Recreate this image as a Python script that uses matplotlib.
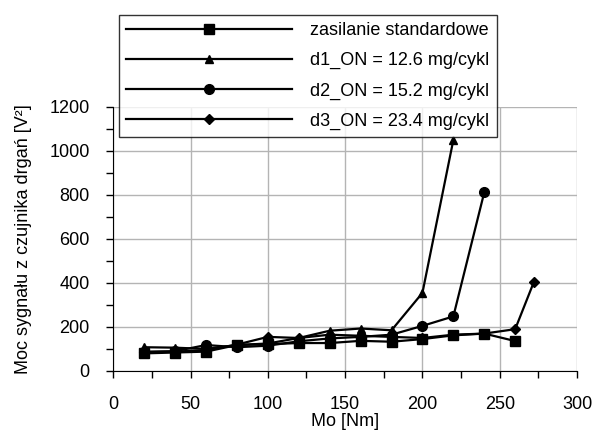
import matplotlib
matplotlib.use("Agg")
import matplotlib.pyplot as plt
from matplotlib.ticker import MultipleLocator

plt.rcParams['font.family'] = ['Liberation Sans', 'DejaVu Sans']
plt.rcParams['font.size'] = 13

# data
x_std = [20, 40, 60, 80, 100, 120, 140, 160, 180, 200, 220, 240, 260]
y_std = [80, 84, 88, 118, 122, 127, 127, 137, 133, 145, 162, 170, 136]

x_d1 = [20, 40, 60, 80, 100, 120, 140, 160, 180, 200, 220]
y_d1 = [108, 106, 100, 118, 125, 150, 183, 193, 185, 355, 1050]

x_d2 = [20, 40, 60, 80, 100, 120, 140, 160, 180, 200, 220, 240]
y_d2 = [88, 90, 118, 108, 115, 135, 148, 155, 165, 205, 248, 812]

x_d3 = [20, 40, 60, 80, 100, 120, 140, 160, 180, 200, 220, 240, 260, 272]
y_d3 = [85, 88, 95, 120, 155, 150, 165, 160, 155, 150, 165, 170, 190, 403]

labels = ["zasilanie standardowe", "d1_ON = 12.6 mg/cykl",
          "d2_ON = 15.2 mg/cykl", "d3_ON = 23.4 mg/cykl"]

fig = plt.figure(figsize=(5.94, 4.34), dpi=100)
ax = fig.add_axes([0.1907, 0.1452, 0.7807, 0.6083])

ax.plot(x_std, y_std, 'k-', marker='s', ms=7, lw=1.6, label=labels[0])
ax.plot(x_d1, y_d1, 'k-', marker='^', ms=6, lw=1.6, label=labels[1])
ax.plot(x_d2, y_d2, 'k-', marker='o', ms=7, lw=1.6, label=labels[2])
ax.plot(x_d3, y_d3, 'k-', marker='D', ms=5, lw=1.6, label=labels[3])

ax.set_xlim(0, 300)
ax.set_ylim(0, 1200)
ax.xaxis.set_major_locator(MultipleLocator(50))
ax.xaxis.set_minor_locator(MultipleLocator(25))
ax.yaxis.set_major_locator(MultipleLocator(200))
ax.yaxis.set_minor_locator(MultipleLocator(100))
ax.grid(True, which='major', color='#b4b4b4', lw=1.0)
ax.set_axisbelow(True)
for s in ['top', 'right']:
    ax.spines[s].set_visible(False)
ax.tick_params(which='both', direction='out', length=5, width=1)
ax.tick_params(axis='x', which='major', pad=13)
ax.tick_params(axis='y', which='major', pad=12)

ax.set_xlabel("Mo [Nm]")
ax.xaxis.set_label_coords(0.5, -0.158)
ax.set_ylabel("Moc sygnału z czujnika drgań [V²]")
ax.yaxis.set_label_coords(-0.175, 0.5)

leg = fig.legend(loc='upper left', bbox_to_anchor=(119 / 594, 1 - 15 / 434),
                 borderaxespad=0, frameon=True, fancybox=False,
                 edgecolor='black', handlelength=9.2, handletextpad=1.0,
                 labelspacing=0.72, borderpad=0.4)
leg.get_frame().set_linewidth(1.0)

fig.savefig("out.png", dpi=100)
